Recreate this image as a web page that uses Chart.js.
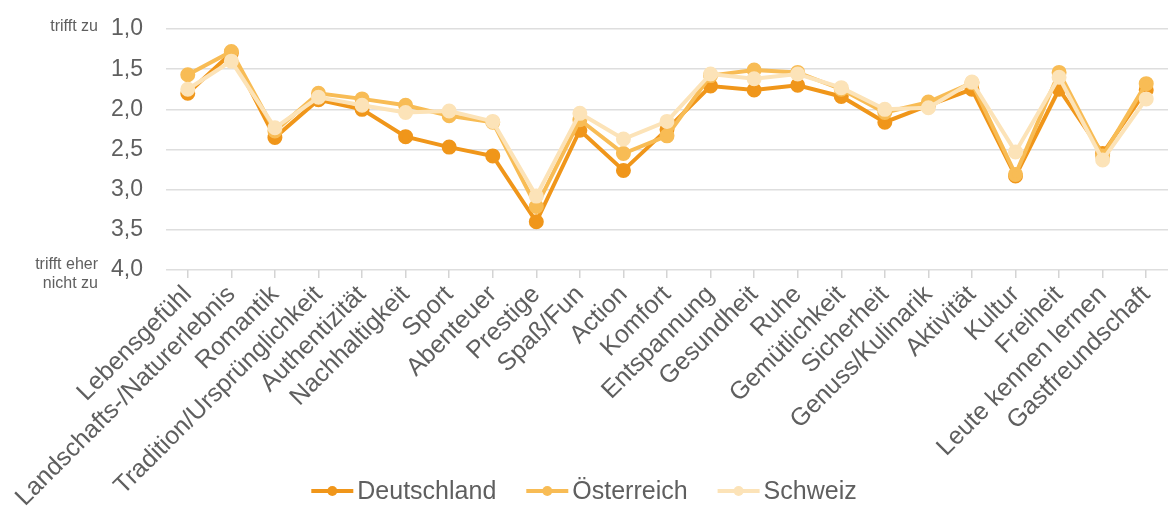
<!DOCTYPE html>
<html lang="de">
<head>
<meta charset="utf-8">
<title>Reisemotive</title>
<script src="https://cdn.jsdelivr.net/npm/chart.js@4"></script>
<style>
    html, body { margin: 0; padding: 0; background: #fff; overflow: hidden; }
    #wrap { width: 1168px; height: 516px; position: relative; }
</style>
</head>
<body>
<div id="wrap"><canvas id="chart-motive"></canvas></div>
<script>
const categories = [
    'Lebensgefühl', 'Landschafts-/Naturerlebnis', 'Romantik', 'Tradition/Ursprünglichkeit',
    'Authentizität', 'Nachhaltigkeit', 'Sport', 'Abenteuer', 'Prestige', 'Spaß/Fun',
    'Action', 'Komfort', 'Entspannung', 'Gesundheit', 'Ruhe', 'Gemütlichkeit',
    'Sicherheit', 'Genuss/Kulinarik', 'Aktivität', 'Kultur', 'Freiheit',
    'Leute kennen lernen', 'Gastfreundschaft'
];
const deutschland = [1.80, 1.30, 2.35, 1.88, 2.00, 2.34, 2.47, 2.58, 3.40, 2.26, 2.76, 2.25, 1.71, 1.76, 1.70, 1.84, 2.16, 1.95, 1.75, 2.83, 1.75, 2.55, 1.76];
const oesterreich = [1.57, 1.28, 2.27, 1.80, 1.87, 1.95, 2.08, 2.16, 3.21, 2.13, 2.55, 2.33, 1.58, 1.51, 1.54, 1.75, 2.04, 1.91, 1.67, 2.81, 1.54, 2.58, 1.68];
const schweiz = [1.75, 1.40, 2.23, 1.85, 1.95, 2.04, 2.02, 2.15, 3.08, 2.05, 2.37, 2.15, 1.56, 1.62, 1.56, 1.73, 2.00, 1.98, 1.66, 2.53, 1.60, 2.63, 1.87];
const yTicks = [1.0, 1.5, 2.0, 2.5, 3.0, 3.5, 4.0];
const scaleTop = 'trifft zu';
const scaleBottom = ['trifft eher', 'nicht zu'];

const colors = ['#f0961a', '#f8bc55', '#fce3b8'];
const textColor = '#5f5f5f';
const fontFamily = '"Liberation Sans", Arial, sans-serif';

// "trifft zu" / "trifft eher nicht zu" next to the y axis
const sideLabels = {
    id: 'sideLabels',
    afterDraw(chart) {
        const ctx = chart.ctx;
        const y = chart.scales.y;
        const x = 98;
        ctx.save();
        ctx.font = '16px ' + fontFamily;
        ctx.fillStyle = textColor;
        ctx.textAlign = 'right';
        ctx.textBaseline = 'middle';
        ctx.fillText(scaleTop, x, y.getPixelForValue(yTicks[0]) - 2);
        const yb = y.getPixelForValue(yTicks[yTicks.length - 1]);
        ctx.fillText(scaleBottom[0], x, yb - 5);
        ctx.fillText(scaleBottom[1], x, yb + 14);
        ctx.restore();
    }
};

// legend drawn under the axis labels: line with dot, then the name
const lineLegend = {
    id: 'lineLegend',
    afterDraw(chart) {
        const ctx = chart.ctx;
        const markerW = 42;
        const gapText = 4;
        const gapItem = 30;
        const y = 491;
        ctx.save();
        ctx.font = '25px ' + fontFamily;
        ctx.textBaseline = 'middle';
        const items = chart.data.datasets.map(ds => ({
            label: ds.label,
            color: ds.borderColor,
            w: markerW + gapText + ctx.measureText(ds.label).width
        }));
        const total = items.reduce((s, it) => s + it.w, 0) + gapItem * (items.length - 1);
        let x = chart.width / 2 - total / 2;
        items.forEach(it => {
            ctx.strokeStyle = it.color;
            ctx.lineWidth = 4;
            ctx.beginPath();
            ctx.moveTo(x, y);
            ctx.lineTo(x + markerW, y);
            ctx.stroke();
            ctx.fillStyle = it.color;
            ctx.beginPath();
            ctx.arc(x + markerW / 2, y, 5, 0, Math.PI * 2);
            ctx.fill();
            ctx.fillStyle = textColor;
            ctx.fillText(it.label, x + markerW + gapText, y + 1);
            x += it.w + gapItem;
        });
        ctx.restore();
    }
};

function makeDataset(label, data, color, order) {
    return {
        label: label,
        data: data,
        borderColor: color,
        backgroundColor: color,
        pointBackgroundColor: color,
        pointBorderColor: color,
        pointStyle: 'circle',
        borderWidth: 4,
        pointRadius: 5.5,
        pointHoverRadius: 5.5,
        tension: 0,
        order: order
    };
}

document.addEventListener('DOMContentLoaded', () => {
    const ctx = document.getElementById('chart-motive').getContext('2d');

    new Chart(ctx, {
        type: 'line',
        data: {
            labels: categories,
            datasets: [
                makeDataset('Deutschland', deutschland, colors[0], 3),
                makeDataset('Österreich', oesterreich, colors[1], 2),
                makeDataset('Schweiz', schweiz, colors[2], 1)
            ]
        },
        options: {
            responsive: true,
            maintainAspectRatio: false,
            animation: false,
            layout: { autoPadding: false, padding: { top: 29, right: 0, bottom: 0, left: 0 } },
            scales: {
                y: {
                    reverse: true,
                    min: 1,
                    max: 4,
                    afterFit: (scale) => {
                        scale.width = 166;
                        scale.paddingTop = 0;
                        scale.paddingBottom = 0;
                    },
                    afterBuildTicks: (scale) => { scale.ticks = yTicks.map(v => ({ value: v })); },
                    ticks: {
                        color: textColor,
                        padding: 23,
                        font: { size: 23, family: fontFamily },
                        callback: (v) => Number(v).toFixed(1).replace('.', ',')
                    },
                    grid: { color: '#dedede', lineWidth: 1.5, drawTicks: false },
                    border: { display: false }
                },
                x: {
                    offset: true,
                    afterFit: (scale) => {
                        scale.height = 246;
                        scale.paddingRight = 0;
                    },
                    ticks: {
                        color: textColor,
                        autoSkip: false,
                        minRotation: 45,
                        maxRotation: 45,
                        padding: 2,
                        font: { size: 25, family: fontFamily }
                    },
                    grid: {
                        offset: false,
                        drawOnChartArea: false,
                        drawTicks: true,
                        tickLength: 8,
                        color: '#d4d4d4',
                        lineWidth: 1.5
                    },
                    border: { display: false }
                }
            },
            plugins: {
                tooltip: { enabled: false },
                legend: { display: false }
            }
        },
        plugins: [sideLabels, lineLegend]
    });
});
</script>
</body>
</html>
